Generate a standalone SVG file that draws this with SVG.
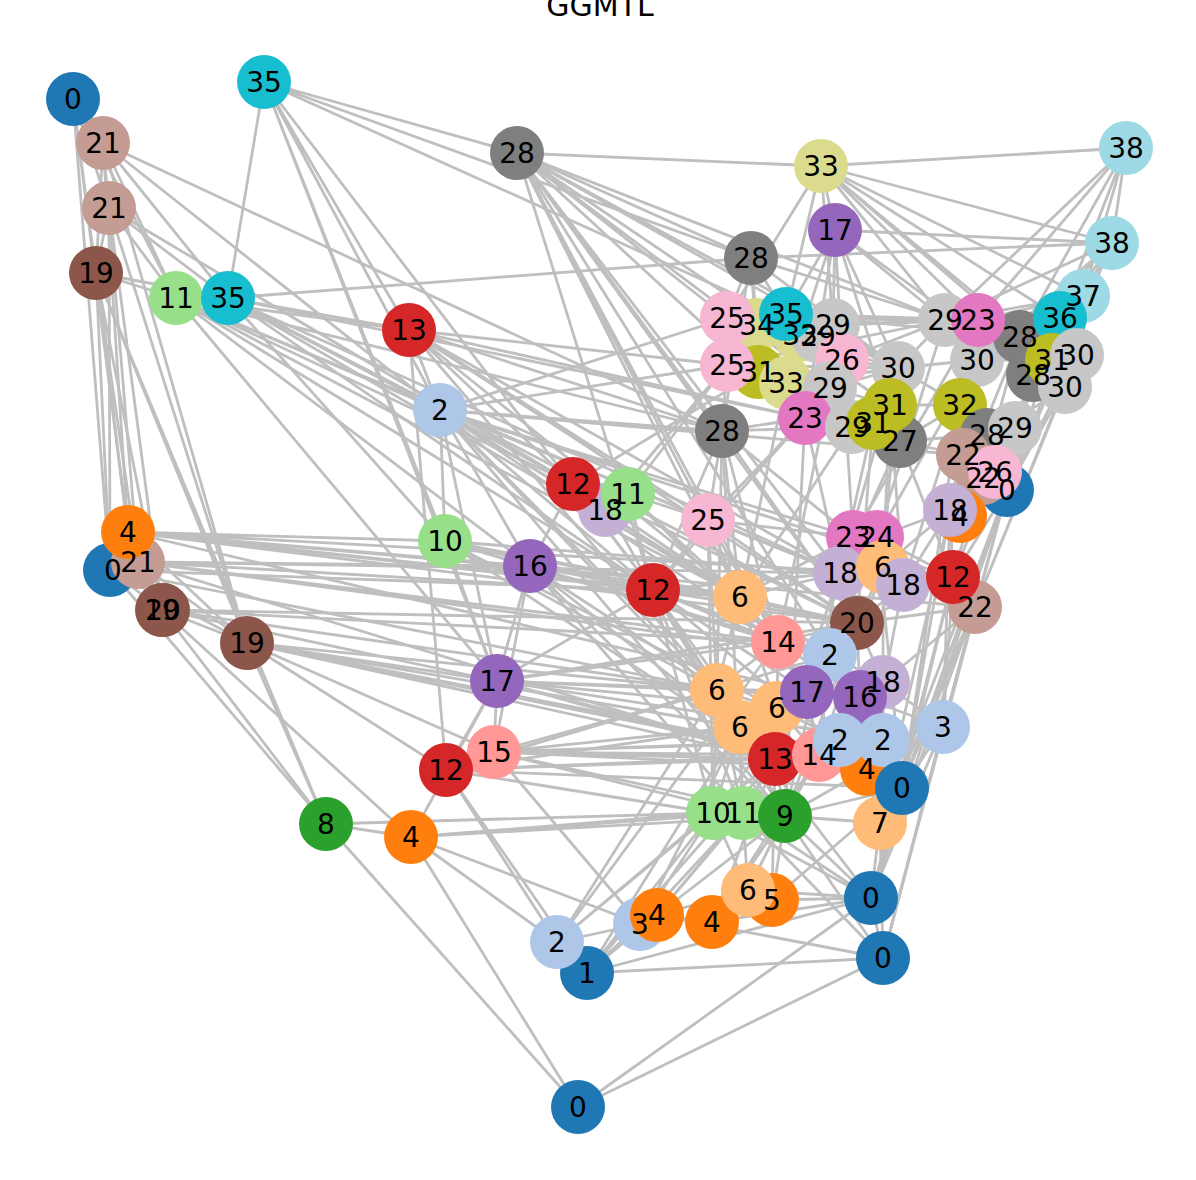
<svg xmlns="http://www.w3.org/2000/svg" width="1196" height="1180" viewBox="0 0 1196 1180">
<style>
.e{fill:none;stroke:#bfbfbf;stroke-width:2.8;stroke-linecap:round}
text{font-family:"DejaVu Sans","Liberation Sans",sans-serif;fill:#000}
.lb text{font-size:28px;text-anchor:middle}
.c0{fill:#1f77b4}.c1{fill:#aec7e8}.c2{fill:#ff7f0e}.c3{fill:#ffbb78}.c4{fill:#2ca02c}.c5{fill:#98df8a}.c6{fill:#d62728}.c7{fill:#ff9896}.c8{fill:#9467bd}.c9{fill:#c5b0d5}.c10{fill:#8c564b}.c11{fill:#c49c94}.c12{fill:#e377c2}.c13{fill:#f7b6d2}.c14{fill:#7f7f7f}.c15{fill:#c7c7c7}.c16{fill:#bcbd22}.c17{fill:#dbdb8d}.c18{fill:#17becf}.c19{fill:#9edae5}
</style>
<rect width="1196" height="1180" fill="#fff"/>
<text x="600" y="16" font-size="30" text-anchor="middle">GGMTL</text>
<g id="edges">
<path class="e" d="M73 99L103 143M73 99L109 208M73 99L96 273M73 99L110 570M73 99L128 532M73 99L176 298"/>
<path class="e" d="M103 143L109 208M103 143L96 273M103 143L176 298M103 143L228 298M103 143L128 532M103 143L138 562M103 143L247 643M103 143L440 410M103 143L722 431"/>
<path class="e" d="M109 208L96 273M109 208L176 298M109 208L110 570M109 208L162 610M109 208L247 643M109 208L228 298M109 208L573 484"/>
<path class="e" d="M96 273L176 298M96 273L110 570M96 273L138 562M96 273L162 610M96 273L247 643M96 273L128 532M96 273L326 824M96 273L228 298"/>
<path class="e" d="M176 298L228 298M176 298L409 330M176 298L440 410M176 298L573 484M176 298L530 566M176 298L708 520M176 298L722 431M176 298L653 590M176 298L740 597M176 298L497 681"/>
<path class="e" d="M228 298L264 82M228 298L409 330M228 298L751 258M228 298L440 410M228 298L445 541M228 298L653 590M228 298L857 623M228 298L840 573M228 298L805 418M228 298L740 597"/>
<path class="e" d="M264 82L517 153M264 82L751 258M264 82L409 330M264 82L440 410M264 82L445 541M264 82L497 681M264 82L653 590M264 82L898 368"/>
<path class="e" d="M517 153L821 166M517 153L751 258M517 153L727 318M517 153L833 325M517 153L898 368M517 153L890 405M517 153L900 441M517 153L805 418M517 153L708 520M517 153L740 597M517 153L840 573M517 153L945 320M517 153L722 431M517 153L653 590M517 153L857 623M517 153L778 642M517 153L830 655"/>
<path class="e" d="M821 166L1126 148M821 166L1112 243M821 166L835 230M821 166L786 314M821 166L833 325M821 166L977 360M821 166L1020 337M821 166L1083 296M821 166L1060 318M821 166L978 320M821 166L1052 358M821 166L727 318"/>
<path class="e" d="M1126 148L1112 243M1126 148L1060 318M1126 148L1083 296M1126 148L1020 337M1126 148L945 320M1126 148L978 320"/>
<path class="e" d="M1112 243L835 230M1112 243L1083 296M1112 243L1060 318M1112 243L1020 337M1112 243L977 360M1112 243L945 320M1112 243L751 258M1112 243L1007 490"/>
<path class="e" d="M835 230L786 314M835 230L833 325M835 230L800 335M835 230L842 360M835 230L898 368M835 230L890 405M835 230L805 418M835 230L1033 375M835 230L945 320"/>
<path class="e" d="M751 258L727 318M751 258L757 325M751 258L786 314M751 258L945 320M751 258L898 368M751 258L758 372M751 258L722 431"/>
<path class="e" d="M1083 296L1060 318M1083 296L1020 337M1083 296L1077 355M1083 296L945 320M1083 296L978 320M1083 296L1007 490"/>
<path class="e" d="M1060 318L1020 337M1060 318L1077 355M1060 318L1052 360M1060 318L1033 375M1060 318L978 320M1060 318L945 320M1060 318L977 360M1060 318L1007 490"/>
<path class="e" d="M409 330L440 410M409 330L446 770M409 330L722 431M409 330L727 365M409 330L573 484M409 330L708 520M409 330L805 418M409 330L840 573M409 330L740 597M409 330L857 623M409 330L717 690"/>
<path class="e" d="M440 410L727 365M440 410L727 318M440 410L722 431M440 410L573 484M440 410L530 566M440 410L445 541M440 410L653 590M440 410L497 681M440 410L853 537M440 410L840 573M440 410L740 597M440 410L778 642M440 410L830 655M440 410L953 577M440 410L963 455M440 410L717 690M440 410L775 759M440 410L785 816"/>
<path class="e" d="M727 318L757 325M727 318L786 314M727 318L727 365M727 318L758 372M727 318L833 325M727 318L898 368M727 318L945 320M727 318L978 320"/>
<path class="e" d="M757 325L786 314M757 325L800 335M757 325L833 325M757 325L758 372M786 314L800 335M786 314L833 325M786 314L818 336M786 314L898 368M786 314L945 320M786 314L978 320M786 314L1020 337"/>
<path class="e" d="M800 335L833 325M800 335L842 360M833 325L945 320M833 325L898 368M833 325L978 320M818 336L842 360"/>
<path class="e" d="M727 365L758 372M727 365L786 383M727 365L722 431M727 365L898 368M727 365L945 320M727 365L607 507M727 365L628 494M758 372L786 383M758 372L805 418M758 372L573 484"/>
<path class="e" d="M786 383L830 388M786 383L805 418M786 383L898 368M786 383L740 597M842 360L830 388M842 360L898 368M842 360L945 320M842 360L853 537M830 388L890 405M830 388L898 368M830 388L778 642"/>
<path class="e" d="M898 368L890 405M898 368L977 360M898 368L945 320M898 368L960 405M898 368L900 441M898 368L840 573M898 368L883 567"/>
<path class="e" d="M805 418L852 427M805 418L873 423M805 418L722 431M805 418L708 520M805 418L653 590M805 418L840 573M722 431L852 427M722 431L853 537M722 431L708 520M722 431L653 590M722 431L740 597M722 431L857 623M722 431L717 690M722 431L778 642"/>
<path class="e" d="M890 405L873 423M890 405L960 405M890 405L900 441M890 405L903 585M890 405L883 567M873 423L900 441M873 423L857 623M852 427L900 441M852 427L740 597M900 441L963 455M900 441L960 405M900 441L987 435M900 441L840 573M900 441L953 577"/>
<path class="e" d="M945 320L978 320M945 320L977 360M945 320L1020 337M945 320L877 537M978 320L1020 337M978 320L977 360M978 320L853 537M977 360L960 405M977 360L1052 360M977 360L1020 337M977 360L950 510M977 360L877 537"/>
<path class="e" d="M1020 337L1052 360M1020 337L1077 355M1020 337L1033 375M1020 337L950 510M1020 337L953 577M1052 360L1077 355M1052 360L1033 375M1033 375L1065 387M1033 375L1015 428M1033 375L1007 490M1033 375L953 577"/>
<path class="e" d="M1077 355L1065 387M1077 355L1007 490M1077 355L975 607M1065 387L1007 490M1065 387L963 455M1065 387L975 607M960 405L987 435M960 405L1015 428M960 405L963 455M960 405L903 585"/>
<path class="e" d="M987 435L1015 428M987 435L963 455M1015 428L995 472M963 455L995 472M963 455L983 478M983 478L1007 490M995 472L1007 490"/>
<path class="e" d="M1007 490L950 510M1007 490L953 577M1007 490L975 607M1007 490L943 727M1007 490L902 787M1007 490L880 822M1007 490L883 958M1007 490L871 898M950 510L953 577M950 510L883 567M950 510L877 537M950 510L903 585"/>
<path class="e" d="M573 484L607 507M573 484L628 494M573 484L530 566M573 484L653 590M573 484L740 597M573 484L857 623M628 494L708 520M628 494L740 597M628 494L653 590M628 494L607 507M628 494L778 642M607 507L653 590M607 507L740 597"/>
<path class="e" d="M708 520L740 597M708 520L853 537M708 520L840 573M708 520L653 590M708 520L778 642M708 520L857 623M708 520L717 690M708 520L807 692"/>
<path class="e" d="M445 541L530 566M445 541L653 590M445 541L740 597M445 541L497 681M445 541L778 642M445 541L857 623M445 541L840 573M445 541L717 690M445 541L775 759M445 541L840 740"/>
<path class="e" d="M530 566L653 590M530 566L497 681M530 566L740 597M530 566L778 642M530 566L830 655M530 566L717 688M530 566L775 758M530 566L494 752M530 566L785 816M530 566L743 813"/>
<path class="e" d="M853 537L877 537M853 537L883 567M853 537L840 573M853 537L903 585M877 537L883 567M877 537L903 585M877 537L953 577M883 567L840 573M883 567L903 585M883 567L857 623M840 573L857 623M840 573L903 585M903 585L953 577M903 585L857 623M953 577L975 607M953 577L857 623M953 577L902 787M953 577L943 727"/>
<path class="e" d="M975 607L857 623M975 607L943 727M975 607L902 787M975 607L880 822M975 607L871 898M975 607L883 958M975 607L883 682"/>
<path class="e" d="M857 623L830 655M857 623L778 642M857 623L860 697M857 623L883 682M857 623L807 692"/>
<path class="e" d="M653 590L740 597M653 590L778 642M653 590L830 655M653 590L717 688M653 590L807 692M653 590L740 727M653 590L775 758M653 590L857 623M653 590L840 573M653 590L785 816M653 590L867 769"/>
<path class="e" d="M740 597L778 642M740 597L830 655M740 597L717 688M740 597L807 692M740 597L777 708M740 597L840 573M740 597L857 623M740 597L853 537"/>
<path class="e" d="M778 642L830 655M778 642L807 692M778 642L717 688M778 642L777 708M778 642L860 697M830 655L807 692M830 655L860 697M830 655L883 682M830 655L819 755"/>
<path class="e" d="M807 692L860 697M807 692L777 708M807 692L819 755M807 692L840 740M807 692L775 759M860 697L883 682M860 697L840 740M860 697L883 740M860 697L943 727M883 682L883 740M883 682L943 727"/>
<path class="e" d="M717 690L777 708M717 690L740 727M717 690L775 759M717 690L713 813M717 690L743 813M777 708L740 727M777 708L775 759M777 708L819 755M740 727L775 759M740 727L713 813M740 727L743 813M740 727L785 816"/>
<path class="e" d="M775 759L819 755M775 759L785 816M775 759L743 813M819 755L840 740M819 755L867 769M819 755L785 816M840 740L883 740M840 740L867 769M883 740L867 769M883 740L902 788M883 740L943 727M867 769L902 788M867 769L880 823M902 788L880 823M943 727L902 788M943 727L880 823"/>
<path class="e" d="M785 816L743 813M785 816L867 769M785 816L880 823M785 816L902 788M785 816L772 900M785 816L871 898M713 813L743 813M713 813L748 890M743 813L880 823M743 813L748 890M775 759L712 922M743 813L657 915"/>
<path class="e" d="M785 816L805 418M743 813L722 431M713 813L708 520M785 816L873 423M775 759L853 537M902 788L950 510M880 823L963 455M871 898L953 577M943 727L950 510M902 788L877 537M883 740L883 567M867 769L903 585M743 813L653 590M713 813L653 590M785 816L857 623M819 755L883 567M775 759L840 573M902 788L960 405"/>
<path class="e" d="M128 532L138 562M128 532L110 570M128 532L162 610M128 532L247 643M128 532L653 590M128 532L740 597M128 532L857 623M128 532L975 607M128 532L445 541M128 532L530 566M128 532L807 692M128 532L953 577"/>
<path class="e" d="M110 570L138 562M110 570L162 610M110 570L247 643M110 570L326 824M110 570L717 690M110 570L653 590"/>
<path class="e" d="M138 562L162 610M138 562L247 643M138 562L740 597M138 562L530 566M138 562L840 573M138 562L778 642M138 562L830 655M138 562L775 759"/>
<path class="e" d="M162 610L247 643M162 610L326 824M162 610L717 690M162 610L778 642M162 610L497 681M162 610L857 623M162 610L411 837"/>
<path class="e" d="M247 643L326 824M247 643L497 681M247 643L717 690M247 643L494 752M247 643L740 727M247 643L775 759M247 643L819 755M247 643L446 770M247 643L867 769"/>
<path class="e" d="M446 770L494 752M446 770L497 681M446 770L717 690M446 770L775 759M446 770L740 727M446 770L830 655M446 770L713 813M446 770L819 755M446 770L902 788M446 770L587 973M446 770L557 942"/>
<path class="e" d="M494 752L497 681M494 752L717 690M494 752L740 727M494 752L775 759M494 752L819 755M494 752L840 740M494 752L785 816M494 752L867 769M494 752L743 813M494 752L883 740M494 752L640 924"/>
<path class="e" d="M497 681L717 690M497 681L778 642M497 681L807 692M497 681L777 708M497 681L860 697M497 681L883 740M497 681L902 788M497 681L857 623M497 681L775 759M497 681L653 590"/>
<path class="e" d="M326 824L713 813M326 824L578 1107M326 824L411 837M411 837L578 1107M411 837L743 813M411 837L713 813M411 837L557 942M411 837L640 924M411 837L497 681M411 837L785 816"/>
<path class="e" d="M557 942L587 973M557 942L640 924M557 942L775 759M557 942L717 690M557 942L713 813M557 942L778 642"/>
<path class="e" d="M587 973L883 958M587 973L871 898M587 973L640 924M587 973L657 915M587 973L740 727M587 973L775 759M587 973L807 692M640 924L657 915M640 924L713 813M640 924L743 813M640 924L740 727"/>
<path class="e" d="M657 915L712 922M657 915L743 813M657 915L748 890M657 915L785 816M657 915L883 958M712 922L748 890M712 922L772 900M712 922L785 816M712 922L871 898M712 922L819 755"/>
<path class="e" d="M748 890L772 900M748 890L785 816M748 890L871 898M772 900L871 898M772 900L902 788M772 900L775 759"/>
<path class="e" d="M871 898L883 958M871 898L902 788M871 898L880 823M871 898L943 727M871 898L713 813M871 898L743 813M871 898L740 727M883 958L880 823M883 958L943 727M883 958L578 1107M883 958L785 816M883 958L743 813M871 898L578 1107"/>
</g>
<g id="nodes">
<g id="n-0a"><circle class="c0" cx="73" cy="99" r="27"/></g>
<g id="n-21a"><circle class="c11" cx="103" cy="143" r="27"/></g>
<g id="n-21b"><circle class="c11" cx="109" cy="208" r="27"/></g>
<g id="n-19a"><circle class="c10" cx="96" cy="273" r="27"/></g>
<g id="n-11a"><circle class="c5" cx="176" cy="298" r="27"/></g>
<g id="n-35a"><circle class="c18" cx="228" cy="298" r="27"/></g>
<g id="n-35b"><circle class="c18" cx="264" cy="82" r="27"/></g>
<g id="n-28a"><circle class="c14" cx="517" cy="153" r="27"/></g>
<g id="n-33a"><circle class="c17" cx="821" cy="166" r="27"/></g>
<g id="n-38a"><circle class="c19" cx="1126" cy="148" r="27"/></g>
<g id="n-38b"><circle class="c19" cx="1112" cy="243" r="27"/></g>
<g id="n-17a"><circle class="c8" cx="835" cy="230" r="27"/></g>
<g id="n-28b"><circle class="c14" cx="751" cy="258" r="27"/></g>
<g id="n-13a"><circle class="c6" cx="409" cy="330" r="27"/></g>
<g id="n-2a"><circle class="c1" cx="440" cy="410" r="27"/></g>
<g id="n-34a"><circle class="c17" cx="757" cy="325" r="27"/></g>
<g id="n-33b"><circle class="c17" cx="800" cy="335" r="27"/></g>
<g id="n-29b"><circle class="c15" cx="818" cy="336" r="27"/></g>
<g id="n-29a"><circle class="c15" cx="833" cy="325" r="27"/></g>
<g id="n-25a"><circle class="c13" cx="727" cy="318" r="27"/></g>
<g id="n-35c"><circle class="c18" cx="786" cy="314" r="27"/></g>
<g id="n-31a"><circle class="c16" cx="758" cy="372" r="27"/></g>
<g id="n-33c"><circle class="c17" cx="786" cy="383" r="27"/></g>
<g id="n-25b"><circle class="c13" cx="727" cy="365" r="27"/></g>
<g id="n-26a"><circle class="c13" cx="842" cy="360" r="27"/></g>
<g id="n-29c"><circle class="c15" cx="830" cy="388" r="27"/></g>
<g id="n-23a"><circle class="c12" cx="805" cy="418" r="27"/></g>
<g id="n-28c"><circle class="c14" cx="722" cy="431" r="27"/></g>
<g id="n-30a"><circle class="c15" cx="898" cy="368" r="27"/></g>
<g id="n-27"><circle class="c14" cx="900" cy="441" r="27"/></g>
<g id="n-29d"><circle class="c15" cx="852" cy="427" r="27"/></g>
<g id="n-31b"><circle class="c16" cx="890" cy="405" r="27"/></g>
<g id="n-31c"><circle class="c16" cx="873" cy="423" r="27"/></g>
<g id="n-30b"><circle class="c15" cx="977" cy="360" r="27"/></g>
<g id="n-29e"><circle class="c15" cx="945" cy="320" r="27"/></g>
<g id="n-28d"><circle class="c14" cx="1020" cy="337" r="27"/></g>
<g id="n-23b"><circle class="c12" cx="978" cy="320" r="27"/></g>
<g id="n-37"><circle class="c19" cx="1083" cy="296" r="27"/></g>
<g id="n-36"><circle class="c18" cx="1060" cy="318" r="27"/></g>
<g id="n-28e"><circle class="c14" cx="1033" cy="375" r="27"/></g>
<g id="n-31d"><circle class="c16" cx="1052" cy="360" r="27"/></g>
<g id="n-30c"><circle class="c15" cx="1077" cy="355" r="27"/></g>
<g id="n-30d"><circle class="c15" cx="1065" cy="387" r="27"/></g>
<g id="n-32a"><circle class="c16" cx="960" cy="405" r="27"/></g>
<g id="n-28f"><circle class="c14" cx="987" cy="435" r="27"/></g>
<g id="n-29f"><circle class="c15" cx="1015" cy="428" r="27"/></g>
<g id="n-0b"><circle class="c0" cx="1007" cy="490" r="27"/></g>
<g id="n-22a"><circle class="c11" cx="963" cy="455" r="27"/></g>
<g id="n-22b"><circle class="c11" cx="983" cy="478" r="27"/></g>
<g id="n-26b"><circle class="c13" cx="995" cy="472" r="27"/></g>
<g id="n-4a"><circle class="c2" cx="960" cy="516" r="27"/></g>
<g id="n-18a"><circle class="c9" cx="950" cy="510" r="27"/></g>
<g id="n-18b"><circle class="c9" cx="605" cy="510" r="27"/></g>
<g id="n-12a"><circle class="c6" cx="573" cy="484" r="27"/></g>
<g id="n-11b"><circle class="c5" cx="628" cy="494" r="27"/></g>
<g id="n-25c"><circle class="c13" cx="708" cy="520" r="27"/></g>
<g id="n-10a"><circle class="c5" cx="445" cy="541" r="27"/></g>
<g id="n-16a"><circle class="c8" cx="530" cy="566" r="27"/></g>
<g id="n-23c"><circle class="c12" cx="853" cy="537" r="27"/></g>
<g id="n-24a"><circle class="c12" cx="877" cy="537" r="27"/></g>
<g id="n-18c"><circle class="c9" cx="840" cy="573" r="27"/></g>
<g id="n-6a"><circle class="c3" cx="883" cy="567" r="27"/></g>
<g id="n-18d"><circle class="c9" cx="903" cy="585" r="27"/></g>
<g id="n-22c"><circle class="c11" cx="975" cy="607" r="27"/></g>
<g id="n-12b"><circle class="c6" cx="953" cy="577" r="27"/></g>
<g id="n-12c"><circle class="c6" cx="653" cy="590" r="27"/></g>
<g id="n-6b"><circle class="c3" cx="740" cy="597" r="27"/></g>
<g id="n-20a"><circle class="c10" cx="857" cy="623" r="27"/></g>
<g id="n-14a"><circle class="c7" cx="778" cy="642" r="27"/></g>
<g id="n-6c"><circle class="c3" cx="717" cy="690" r="27"/></g>
<g id="n-6e"><circle class="c3" cx="740" cy="727" r="27"/></g>
<g id="n-6d"><circle class="c3" cx="777" cy="708" r="27"/></g>
<g id="n-2b"><circle class="c1" cx="830" cy="655" r="27"/></g>
<g id="n-17b"><circle class="c8" cx="807" cy="692" r="27"/></g>
<g id="n-18e"><circle class="c9" cx="883" cy="682" r="27"/></g>
<g id="n-16b"><circle class="c8" cx="860" cy="697" r="27"/></g>
<g id="n-13b"><circle class="c6" cx="775" cy="759" r="27"/></g>
<g id="n-14b"><circle class="c7" cx="819" cy="755" r="27"/></g>
<g id="n-4b"><circle class="c2" cx="867" cy="769" r="27"/></g>
<g id="n-2c"><circle class="c1" cx="840" cy="740" r="27"/></g>
<g id="n-2d"><circle class="c1" cx="883" cy="740" r="27"/></g>
<g id="n-7"><circle class="c3" cx="880" cy="823" r="27"/></g>
<g id="n-0c"><circle class="c0" cx="902" cy="788" r="27"/></g>
<g id="n-3a"><circle class="c1" cx="943" cy="727" r="27"/></g>
<g id="n-10b"><circle class="c5" cx="713" cy="813" r="27"/></g>
<g id="n-11c"><circle class="c5" cx="743" cy="813" r="27"/></g>
<g id="n-9"><circle class="c4" cx="785" cy="816" r="27"/></g>
<g id="n-17c"><circle class="c8" cx="497" cy="681" r="27"/></g>
<g id="n-15"><circle class="c7" cx="494" cy="752" r="27"/></g>
<g id="n-12d"><circle class="c6" cx="446" cy="770" r="27"/></g>
<g id="n-8"><circle class="c4" cx="326" cy="824" r="27"/></g>
<g id="n-4c"><circle class="c2" cx="411" cy="837" r="27"/></g>
<g id="n-1"><circle class="c0" cx="587" cy="973" r="27"/></g>
<g id="n-2e"><circle class="c1" cx="557" cy="942" r="27"/></g>
<g id="n-3b"><circle class="c1" cx="640" cy="924" r="27"/></g>
<g id="n-4d"><circle class="c2" cx="657" cy="915" r="27"/></g>
<g id="n-4e"><circle class="c2" cx="712" cy="922" r="27"/></g>
<g id="n-5"><circle class="c2" cx="772" cy="900" r="27"/></g>
<g id="n-6f"><circle class="c3" cx="748" cy="890" r="27"/></g>
<g id="n-0d"><circle class="c0" cx="871" cy="898" r="27"/></g>
<g id="n-0e"><circle class="c0" cx="883" cy="958" r="27"/></g>
<g id="n-0f"><circle class="c0" cx="578" cy="1107" r="27"/></g>
<g id="n-0g"><circle class="c0" cx="110" cy="570" r="27"/></g>
<g id="n-21c"><circle class="c11" cx="138" cy="562" r="27"/></g>
<g id="n-4f"><circle class="c2" cx="128" cy="532" r="27"/></g>
<g id="n-19b"><circle class="c10" cx="162" cy="610" r="27"/></g>
<g id="n-20b"><circle class="c10" cx="163" cy="610" r="27"/></g>
<g id="n-19c"><circle class="c10" cx="247" cy="643" r="27"/></g>
</g>
<g id="labels" class="lb">
<text x="73" y="109">0</text>
<text x="103" y="153">21</text>
<text x="109" y="218">21</text>
<text x="96" y="283">19</text>
<text x="176" y="308">11</text>
<text x="228" y="308">35</text>
<text x="264" y="92">35</text>
<text x="517" y="163">28</text>
<text x="821" y="176">33</text>
<text x="1126" y="158">38</text>
<text x="1112" y="253">38</text>
<text x="835" y="240">17</text>
<text x="751" y="268">28</text>
<text x="409" y="340">13</text>
<text x="440" y="420">2</text>
<text x="757" y="335">34</text>
<text x="800" y="345">33</text>
<text x="818" y="346">29</text>
<text x="833" y="335">29</text>
<text x="727" y="328">25</text>
<text x="786" y="324">35</text>
<text x="758" y="382">31</text>
<text x="786" y="393">33</text>
<text x="727" y="375">25</text>
<text x="842" y="370">26</text>
<text x="830" y="398">29</text>
<text x="805" y="428">23</text>
<text x="722" y="441">28</text>
<text x="898" y="378">30</text>
<text x="900" y="451">27</text>
<text x="852" y="437">29</text>
<text x="890" y="415">31</text>
<text x="873" y="433">31</text>
<text x="977" y="370">30</text>
<text x="945" y="330">29</text>
<text x="1020" y="347">28</text>
<text x="978" y="330">23</text>
<text x="1083" y="306">37</text>
<text x="1060" y="328">36</text>
<text x="1033" y="385">28</text>
<text x="1052" y="370">31</text>
<text x="1077" y="365">30</text>
<text x="1065" y="397">30</text>
<text x="960" y="415">32</text>
<text x="987" y="445">28</text>
<text x="1015" y="438">29</text>
<text x="1007" y="500">0</text>
<text x="963" y="465">22</text>
<text x="983" y="488">22</text>
<text x="995" y="482">26</text>
<text x="960" y="526">4</text>
<text x="950" y="520">18</text>
<text x="605" y="520">18</text>
<text x="573" y="494">12</text>
<text x="628" y="504">11</text>
<text x="708" y="530">25</text>
<text x="445" y="551">10</text>
<text x="530" y="576">16</text>
<text x="853" y="547">23</text>
<text x="877" y="547">24</text>
<text x="840" y="583">18</text>
<text x="883" y="577">6</text>
<text x="903" y="595">18</text>
<text x="975" y="617">22</text>
<text x="953" y="587">12</text>
<text x="653" y="600">12</text>
<text x="740" y="607">6</text>
<text x="857" y="633">20</text>
<text x="778" y="652">14</text>
<text x="717" y="700">6</text>
<text x="740" y="737">6</text>
<text x="777" y="718">6</text>
<text x="830" y="665">2</text>
<text x="807" y="702">17</text>
<text x="883" y="692">18</text>
<text x="860" y="707">16</text>
<text x="775" y="769">13</text>
<text x="819" y="765">14</text>
<text x="867" y="779">4</text>
<text x="840" y="750">2</text>
<text x="883" y="750">2</text>
<text x="880" y="833">7</text>
<text x="902" y="798">0</text>
<text x="943" y="737">3</text>
<text x="713" y="823">10</text>
<text x="743" y="823">11</text>
<text x="785" y="826">9</text>
<text x="497" y="691">17</text>
<text x="494" y="762">15</text>
<text x="446" y="780">12</text>
<text x="326" y="834">8</text>
<text x="411" y="847">4</text>
<text x="587" y="983">1</text>
<text x="557" y="952">2</text>
<text x="640" y="934">3</text>
<text x="657" y="925">4</text>
<text x="712" y="932">4</text>
<text x="772" y="910">5</text>
<text x="748" y="900">6</text>
<text x="871" y="908">0</text>
<text x="883" y="968">0</text>
<text x="578" y="1117">0</text>
<text x="113" y="580">0</text>
<text x="138" y="572">21</text>
<text x="128" y="542">4</text>
<text x="162" y="620">19</text>
<text x="163" y="620">20</text>
<text x="247" y="653">19</text>
</g>
</svg>
